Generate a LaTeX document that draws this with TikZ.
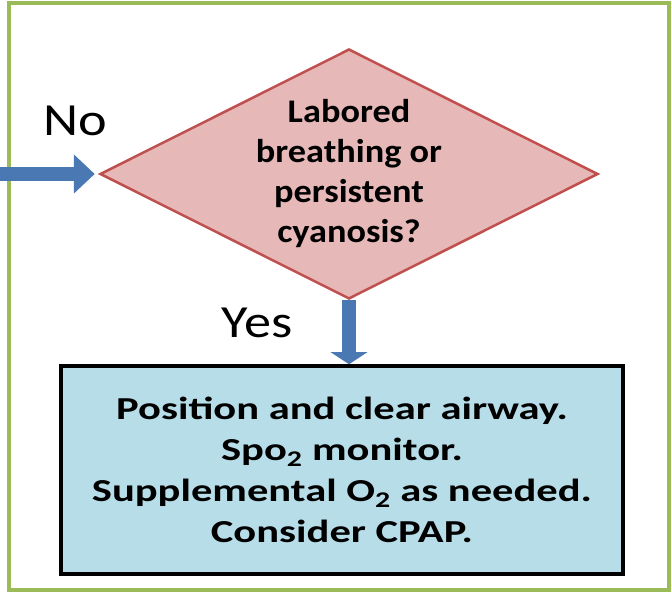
\documentclass[tikz,border=0pt]{standalone}
\usepackage{fontspec}
\setmainfont{Carlito}[FakeStretch=1.18]
\newfontfamily\decisionfont{Carlito}[FakeStretch=1.1]
\newfontfamily\actionfont{Carlito}[FakeStretch=1.33]
\usetikzlibrary{shapes.geometric,arrows.meta}
\definecolor{framegreen}{HTML}{9BBB59}
\definecolor{decisionred}{HTML}{C0504D}
\definecolor{decisionfill}{HTML}{E6B9B8}
\definecolor{actionfill}{HTML}{B7DDE8}
\definecolor{arrowblue}{HTML}{4A78B2}
\begin{document}
\begin{tikzpicture}[x=1pt, y=-1pt]
    % Define styles
    \tikzset{
        decisionbox/.style={diamond, draw=decisionred, fill=decisionfill, line width=2.5pt, aspect=2, inner sep=-5pt, minimum width=498pt, minimum height=250pt, align=center, font=\decisionfont\fontsize{33}{40}\selectfont\bfseries},
        actionbox/.style={draw=black, fill=actionfill, line width=3.5pt, minimum width=562pt, minimum height=208pt, align=center, font=\actionfont\fontsize{32}{41}\selectfont\bfseries},
        blockarrow/.style={line width=14pt, draw=arrowblue},
        branchlabel/.style={font=\fontsize{46}{50}\selectfont}
    }
    \useasboundingbox (0,0) rectangle (672,593);

    % Outer frame
    \draw[framegreen, line width=4pt] (9,3) rectangle (669,590);

    % Decision and action
    \node[decisionbox] (decision) at (349,174) {Labored\\breathing or\\persistent\\cyanosis?};
    \node[actionbox] (action) at (342,470) {Position and clear airway.\\Spo\textsubscript{2} monitor.\\Supplemental O\textsubscript{2} as needed.\\Consider CPAP.};

    % Arrows
    \coordinate (noin) at (0,174);
    \draw[blockarrow, -{Triangle[length=21pt, width=38pt]}, shorten >=4pt] (noin) -- (decision.west);
    \draw[blockarrow, -{Triangle[length=12pt, width=36pt]}] (decision.south) -- (decision.south |- action.north);

    % Branch labels
    \node[branchlabel] (no) at (75,121) {No};
    \node[branchlabel] (yes) at (257,323) {Yes};
\end{tikzpicture}
\end{document}
